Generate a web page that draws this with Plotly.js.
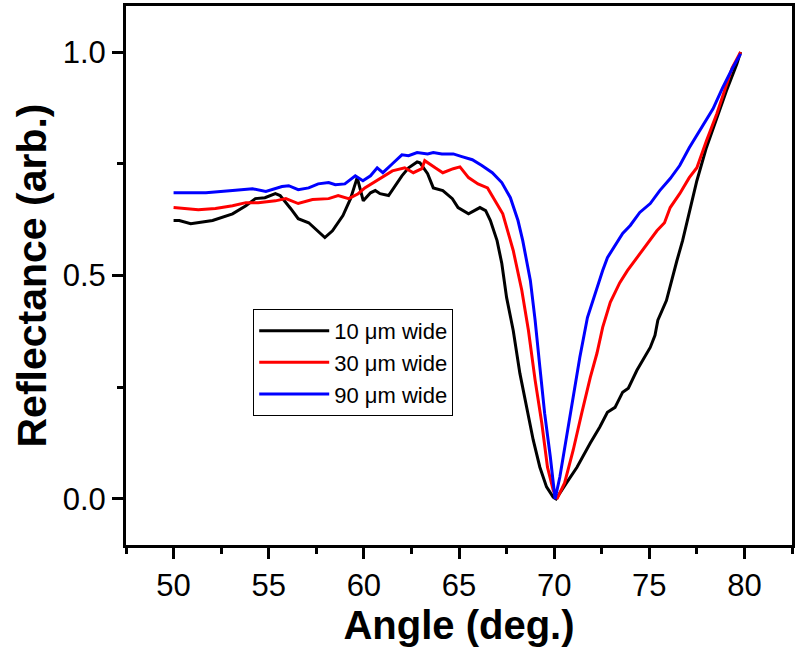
<!DOCTYPE html>
<html>
<head>
<meta charset="utf-8">
<script src="https://cdn.plot.ly/plotly-3.0.1.min.js"></script>
<style>
  body { margin: 0; background: #fff; }
  #chart { width: 800px; height: 649px; }
</style>
</head>
<body>
<div id="chart"></div>
<script>
// values
const angle10 = [50.0, 50.3, 50.9, 52.05, 53.1, 53.8, 54.3, 54.8, 55.35, 55.6, 56.15, 56.55, 57.1, 57.8, 57.95, 58.35, 58.9, 59.3, 59.65, 59.97, 60.35, 60.6, 60.85, 61.3, 61.65, 62.0, 62.35, 62.8, 62.95, 63.35, 63.65, 64.15, 64.65, 64.95, 65.5, 66.1, 66.4, 66.65, 67.0, 67.25, 67.5, 67.85, 68.2, 68.55, 68.9, 69.25, 69.6, 69.95, 70.1, 70.65, 71.2, 71.9, 72.4, 72.8, 73.2, 73.6, 73.9, 74.35, 75.05, 75.3, 75.45, 75.9, 76.25, 76.45, 76.75, 77.25, 77.5, 78.0, 78.55, 79.05, 79.6, 79.8]
const refl10 = [0.623, 0.623, 0.616, 0.623, 0.638, 0.656, 0.672, 0.674, 0.683, 0.679, 0.650, 0.627, 0.618, 0.589, 0.585, 0.600, 0.634, 0.672, 0.719, 0.667, 0.685, 0.690, 0.683, 0.679, 0.701, 0.723, 0.741, 0.754, 0.752, 0.728, 0.696, 0.690, 0.672, 0.652, 0.638, 0.652, 0.645, 0.623, 0.578, 0.527, 0.451, 0.377, 0.281, 0.205, 0.132, 0.071, 0.027, 0.004, 0.0, 0.036, 0.071, 0.125, 0.161, 0.194, 0.205, 0.239, 0.248, 0.288, 0.339, 0.366, 0.400, 0.444, 0.504, 0.533, 0.578, 0.667, 0.712, 0.786, 0.853, 0.913, 0.973, 1.0]

const angle30 = [50.0, 50.5, 51.3, 52.2, 53.1, 53.8, 54.45, 55.35, 55.9, 56.55, 57.3, 58.15, 58.65, 59.2, 59.7, 60.05, 60.85, 61.5, 62.15, 62.6, 63.05, 63.2, 63.75, 64.15, 64.7, 65.05, 65.5, 66.0, 66.5, 66.8, 67.3, 67.85, 68.3, 68.65, 69.0, 69.35, 69.65, 69.95, 70.15, 70.55, 71.0, 71.45, 71.9, 72.25, 72.55, 72.95, 73.45, 73.85, 74.5, 75.4, 75.8, 76.1, 76.6, 77.1, 77.5, 78.0, 78.55, 79.05, 79.35, 79.8]
const refl30 = [0.652, 0.650, 0.647, 0.650, 0.656, 0.663, 0.663, 0.667, 0.672, 0.661, 0.670, 0.672, 0.679, 0.672, 0.683, 0.696, 0.717, 0.734, 0.741, 0.730, 0.739, 0.757, 0.741, 0.730, 0.739, 0.743, 0.719, 0.705, 0.696, 0.674, 0.638, 0.556, 0.467, 0.377, 0.266, 0.170, 0.071, 0.020, 0.0, 0.036, 0.109, 0.192, 0.272, 0.326, 0.384, 0.440, 0.484, 0.511, 0.549, 0.600, 0.618, 0.652, 0.683, 0.719, 0.741, 0.801, 0.862, 0.929, 0.964, 1.0]

const angle90 = [50.0, 50.5, 51.7, 53.1, 54.15, 54.85, 55.35, 55.7, 56.05, 56.55, 57.1, 57.6, 58.15, 58.5, 59.0, 59.55, 59.95, 60.35, 60.7, 61.0, 61.5, 62.0, 62.35, 62.8, 63.35, 63.65, 64.1, 64.7, 65.15, 65.7, 66.2, 66.75, 67.25, 67.7, 68.1, 68.35, 68.75, 69.0, 69.25, 69.5, 69.8, 70.0, 70.05, 70.3, 70.65, 71.0, 71.35, 71.75, 72.15, 72.55, 72.8, 73.1, 73.6, 74.0, 74.5, 75.05, 75.55, 76.1, 76.6, 77.1, 77.8, 78.35, 78.85, 79.35, 79.8]
const refl90 = [0.685, 0.685, 0.685, 0.690, 0.694, 0.688, 0.694, 0.699, 0.701, 0.692, 0.696, 0.705, 0.708, 0.703, 0.705, 0.723, 0.712, 0.723, 0.741, 0.730, 0.750, 0.770, 0.768, 0.775, 0.772, 0.775, 0.772, 0.772, 0.766, 0.759, 0.746, 0.730, 0.708, 0.674, 0.623, 0.578, 0.489, 0.400, 0.295, 0.192, 0.094, 0.020, 0.0, 0.049, 0.138, 0.228, 0.317, 0.406, 0.460, 0.511, 0.540, 0.560, 0.594, 0.612, 0.641, 0.661, 0.690, 0.717, 0.746, 0.786, 0.835, 0.873, 0.920, 0.962, 0.996]

const seriesNames = ['10 μm wide', '30 μm wide', '90 μm wide']
const seriesColors = ['#000000', '#ff0000', '#0000ff']

const xs = [angle10, angle30, angle90]
const ys = [refl10, refl30, refl90]

const data = seriesNames.map((name, i) => ({
  x: xs[i],
  y: ys[i],
  mode: 'lines',
  name: name,
  line: { color: seriesColors[i], width: 3 }
}))

const axisStyle = {
  showline: true,
  linecolor: '#000',
  linewidth: 3,
  mirror: true,
  showgrid: false,
  zeroline: false,
  ticks: 'outside',
  ticklen: 11,
  tickwidth: 3,
  tickcolor: '#000',
  tickfont: { family: 'Liberation Sans, Arial, sans-serif', size: 31, color: '#000' }
}

const layout = {
  width: 800,
  height: 649,
  margin: { l: 126, r: 8, t: 6, b: 104 },
  paper_bgcolor: '#fff',
  plot_bgcolor: '#fff',
  font: { family: 'Liberation Sans, Arial, sans-serif', color: '#000' },
  xaxis: Object.assign({}, axisStyle, {
    range: [47.5, 82.5],
    tick0: 50,
    dtick: 5,
    minor: { dtick: 2.5, tick0: 47.5, ticks: 'outside', ticklen: 6, tickwidth: 3, tickcolor: '#000' },
    title: { text: '<b>Angle (deg.)</b>', font: { size: 40 }, standoff: 4 }
  }),
  yaxis: Object.assign({}, axisStyle, {
    range: [-0.103, 1.103],
    tick0: 0,
    dtick: 0.5,
    tickformat: '.1f',
    minor: { dtick: 0.25, tick0: 0, ticks: 'outside', ticklen: 6, tickwidth: 3, tickcolor: '#000' },
    title: { text: '<b>Reflectance (arb.)</b>', font: { size: 41 }, standoff: 4 }
  }),
  showlegend: true,
  legend: {
    x: 0.191,
    y: 0.438,
    xanchor: 'left',
    yanchor: 'top',
    bgcolor: '#fff',
    bordercolor: '#000',
    borderwidth: 1,
    font: { size: 22, color: '#000' },
    tracegroupgap: 0,
    itemwidth: 70
  }
}

Plotly.newPlot('chart', data, layout, { displayModeBar: false, staticPlot: true })
</script>
</body>
</html>
